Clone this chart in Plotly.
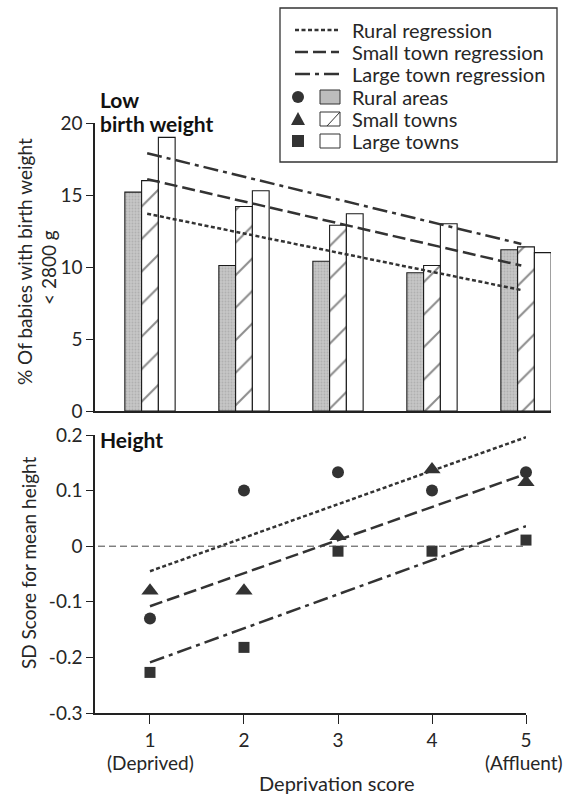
import plotly.graph_objects as go

W, H = 574, 796
def X(px): return px / W
def Y(py): return 1 - py / H

# ---------------- data ----------------
scores = [1, 2, 3, 4, 5]
lbw_rural = [15.2, 10.1, 10.4, 9.6, 11.2]
lbw_small = [16.0, 14.2, 12.9, 10.1, 11.4]
lbw_large = [19.0, 15.3, 13.7, 13.0, 11.0]
lbw_reg_x = [0.97, 4.95]
lbw_reg_rural = [13.7, 8.4]
lbw_reg_small = [16.1, 10.1]
lbw_reg_large = [17.9, 11.6]

height_rural = [-0.13, 0.10, 0.133, 0.10, 0.133]
height_small = [-0.08, -0.08, 0.018, 0.138, 0.115]
height_large = [-0.227, -0.182, -0.009, -0.009, 0.011]
height_reg_x = [1, 5]
height_reg_rural = [-0.045, 0.196]
height_reg_small = [-0.108, 0.13]
height_reg_large = [-0.209, 0.036]

top_yticks = [0, 5, 10, 15, 20]
bot_yticks = [-0.3, -0.2, -0.1, 0, 0.1, 0.2]
bot_yticklabels = ["-0.3", "-0.2", "-0.1", "0", "0.1", "0.2"]
xticklabels = ["1", "2", "3", "4", "5"]

FONT = "Lato"
INK = "#262626"
DOT = "4px,2.5px"
DASH = "13px,5px"
DASHDOT = "15px,5px,4px,5px"
LW = 2.5

fig = go.Figure()

# ---------------- top: bars ----------------
bar_line = dict(color="#1a1a1a", width=1.1)
fig.add_trace(go.Bar(x=scores, y=lbw_rural, xaxis="x", yaxis="y",
                     marker=dict(color="#b8b8b8", line=bar_line,
                                 pattern=dict(shape=".", fgcolor="#9a9a9a", bgcolor="#c6c6c6",
                                              size=3, solidity=0.3)),
                     showlegend=False))
fig.add_trace(go.Bar(x=scores, y=lbw_small, xaxis="x", yaxis="y",
                     marker=dict(color="white", line=bar_line,
                                 pattern=dict(shape="/", fgcolor="#1a1a1a", bgcolor="white",
                                              size=23, solidity=0.09)),
                     showlegend=False))
fig.add_trace(go.Bar(x=scores, y=lbw_large, xaxis="x", yaxis="y",
                     marker=dict(color="white", line=bar_line),
                     showlegend=False))

for ys, dash in [(lbw_reg_rural, DOT), (lbw_reg_small, DASH), (lbw_reg_large, DASHDOT)]:
    fig.add_trace(go.Scatter(x=lbw_reg_x, y=ys, xaxis="x", yaxis="y", mode="lines",
                             line=dict(color="#333333", width=LW, dash=dash),
                             showlegend=False, hoverinfo="skip", cliponaxis=False))

# ---------------- bottom: height ----------------
for ys, dash in [(height_reg_rural, DOT), (height_reg_small, DASH), (height_reg_large, DASHDOT)]:
    fig.add_trace(go.Scatter(x=height_reg_x, y=ys, xaxis="x2", yaxis="y2", mode="lines",
                             line=dict(color="#333333", width=LW, dash=dash),
                             showlegend=False, hoverinfo="skip", cliponaxis=False))

mk = "#333333"
fig.add_trace(go.Scatter(x=scores, y=height_rural, xaxis="x2", yaxis="y2", mode="markers",
                         marker=dict(symbol="circle", size=12, color=mk), showlegend=False,
                         cliponaxis=False))
fig.add_trace(go.Scatter(x=scores, y=height_small, xaxis="x2", yaxis="y2", mode="markers",
                         marker=dict(symbol="triangle-up", size=15, color=mk), showlegend=False,
                         cliponaxis=False))
fig.add_trace(go.Scatter(x=scores, y=height_large, xaxis="x2", yaxis="y2", mode="markers",
                         marker=dict(symbol="square", size=11, color=mk), showlegend=False,
                         cliponaxis=False))

axis_common = dict(showgrid=False, zeroline=False, showline=True, linecolor="#222222",
                   linewidth=1.5, tickcolor="#222222", tickwidth=1.3, automargin=False,
                   tickfont=dict(family=FONT, size=19, color=INK))

fig.update_layout(
    width=W, height=H, margin=dict(l=0, r=0, t=0, b=0, pad=0, autoexpand=False),
    paper_bgcolor="white", plot_bgcolor="white", showlegend=False,
    barmode="group", bargap=0.465, bargroupgap=0,
    xaxis=dict(domain=[X(95), X(551)], range=[0.415, 5.266], anchor="y",
               showticklabels=False, ticks="", **axis_common),
    yaxis=dict(domain=[Y(411), Y(123)], range=[0, 20], anchor="x",
               tickvals=top_yticks, ticks="outside", ticklen=7, **axis_common),
    xaxis2=dict(domain=[X(95), X(526)], range=[0.415, 5.0], anchor="y2",
                tickvals=scores, ticktext=xticklabels, ticks="outside", ticklen=9, **axis_common),
    yaxis2=dict(domain=[Y(713), Y(435)], range=[-0.3, 0.2], anchor="x2",
                tickvals=bot_yticks, ticktext=bot_yticklabels, ticks="outside", ticklen=7,
                **axis_common),
)

shapes = []
annots = []

# zero reference line in bottom panel
shapes.append(dict(type="line", xref="x2", yref="y2", x0=0.33, x1=5.0, y0=0, y1=0,
                   line=dict(color="#444444", width=1, dash="7px,4px")))

# panel labels
bold = dict(family=FONT, size=21, color="#111111")
annots.append(dict(text="<b>Low</b>", xref="paper", yref="paper", x=X(99), y=Y(100),
                   xanchor="left", yanchor="middle", showarrow=False, font=bold, borderpad=0))
annots.append(dict(text="<b>birth weight</b>", xref="paper", yref="paper", x=X(99), y=Y(123),
                   xanchor="left", yanchor="middle", showarrow=False, font=bold, borderpad=0))
annots.append(dict(text="<b>Height</b>", xref="paper", yref="paper", x=X(99), y=Y(440),
                   xanchor="left", yanchor="middle", showarrow=False, font=bold, borderpad=0))

# axis titles
tfont = dict(family=FONT, size=19, color=INK)
xfont = dict(family=FONT, size=20, color=INK)
annots.append(dict(text="% Of babies with birth weight", xref="paper", yref="paper",
                   x=X(25), y=Y(262), textangle=-90, showarrow=False, font=tfont,
                   xanchor="center", yanchor="middle"))
annots.append(dict(text="< 2800 g", xref="paper", yref="paper",
                   x=X(48), y=Y(268), textangle=-90, showarrow=False, font=tfont,
                   xanchor="center", yanchor="middle"))
annots.append(dict(text="SD Score for mean height", xref="paper", yref="paper",
                   x=X(28), y=Y(563), textangle=-90, showarrow=False, font=tfont,
                   xanchor="center", yanchor="middle"))
annots.append(dict(text="Deprivation score", xref="paper", yref="paper",
                   x=X(337), y=Y(783), showarrow=False, font=xfont,
                   xanchor="center", yanchor="middle"))
annots.append(dict(text="(Deprived)", xref="paper", yref="paper",
                   x=X(150), y=Y(762), showarrow=False, font=tfont,
                   xanchor="center", yanchor="middle"))
annots.append(dict(text="(Affluent)", xref="paper", yref="paper",
                   x=X(524), y=Y(762), showarrow=False, font=tfont,
                   xanchor="center", yanchor="middle"))

# ---------------- custom legend ----------------
shapes.append(dict(type="rect", xref="paper", yref="paper",
                   x0=X(280), x1=X(557), y0=Y(162), y1=Y(8),
                   line=dict(color="#333333", width=1.3), fillcolor="white", layer="above"))
rows = [30, 52, 74, 97, 119, 141]
labels = ["Rural regression", "Small town regression", "Large town regression",
          "Rural areas", "Small towns", "Large towns"]
for yy, dash in zip(rows[:3], [DOT, DASH, DASHDOT]):
    shapes.append(dict(type="line", xref="paper", yref="paper", x0=X(295), x1=X(339),
                       y0=Y(yy), y1=Y(yy), line=dict(color="#333333", width=LW, dash=dash),
                       layer="above"))
r = 6
y4 = rows[3]
shapes.append(dict(type="circle", xref="paper", yref="paper", x0=X(298 - r), x1=X(298 + r),
                   y0=Y(y4 + r), y1=Y(y4 - r), fillcolor=mk, line=dict(width=0), layer="above"))
y5 = rows[4]
shapes.append(dict(type="path", xref="paper", yref="paper",
                   path=f"M {X(291)} {Y(y5 + 6)} L {X(305)} {Y(y5 + 6)} L {X(298)} {Y(y5 - 7)} Z",
                   fillcolor=mk, line=dict(width=0), layer="above"))
y6 = rows[5]
shapes.append(dict(type="rect", xref="paper", yref="paper", x0=X(292), x1=X(304),
                   y0=Y(y6 + 6), y1=Y(y6 - 6), fillcolor=mk, line=dict(width=0), layer="above"))
sw = dict(xref="paper", yref="paper", x0=X(320), x1=X(340), layer="above")
shapes.append(dict(type="rect", y0=Y(y4 + 7), y1=Y(y4 - 7), fillcolor="#bdbdbd",
                   line=dict(color="#333333", width=1), **sw))
shapes.append(dict(type="rect", y0=Y(y5 + 7), y1=Y(y5 - 7), fillcolor="white",
                   line=dict(color="#333333", width=1), **sw))
shapes.append(dict(type="line", xref="paper", yref="paper", x0=X(327), x1=X(340),
                   y0=Y(y5 + 7), y1=Y(y5 - 7), line=dict(color="#333333", width=1), layer="above"))
shapes.append(dict(type="rect", y0=Y(y6 + 7), y1=Y(y6 - 7), fillcolor="white",
                   line=dict(color="#333333", width=1), **sw))
lfont = dict(family=FONT, size=20, color=INK)
for yy, lab in zip(rows, labels):
    annots.append(dict(text=lab, xref="paper", yref="paper", x=X(351), y=Y(yy),
                       xanchor="left", yanchor="middle", showarrow=False, font=lfont,
                       borderpad=0))

fig.update_layout(shapes=shapes, annotations=annots)

pin_js = (
    "document.documentElement.style.margin='0';"
    "document.documentElement.style.overflow='hidden';"
    "document.body.style.margin='0';document.body.style.overflow='hidden';"
    "var g=document.querySelector('.plotly-graph-div');"
    "if(g){g.style.position='fixed';g.style.left='0px';g.style.top='0px';}"
)
fig.write_html("out.html", config={"displayModeBar": False}, post_script=pin_js)
